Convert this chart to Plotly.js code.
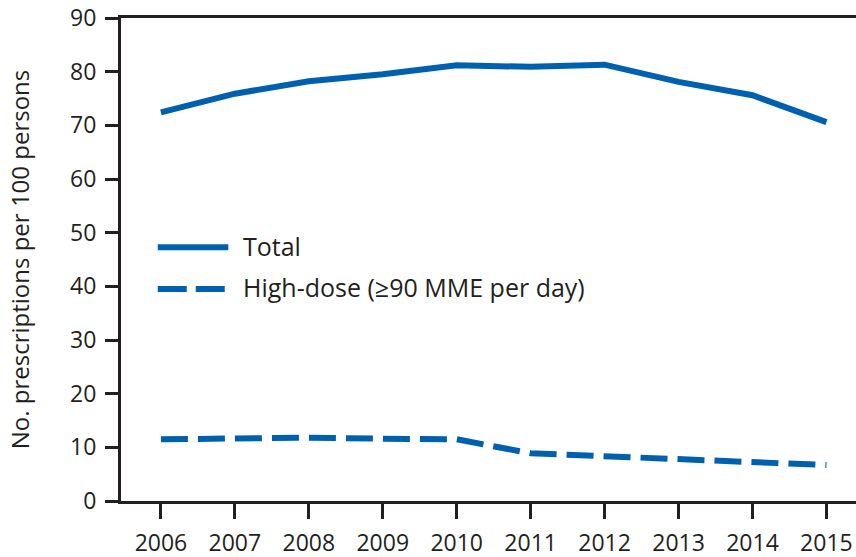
<!DOCTYPE html>
<html>
<head>
<meta charset="utf-8">
<script src="https://cdn.plot.ly/plotly-3.0.1.min.js"></script>
<style>
    html, body { margin: 0; padding: 0; background: #ffffff; }
    #chart { width: 856px; height: 557px; }
</style>
</head>
<body>
<div id="chart"></div>
<script>
// Opioid prescribing rates, per 100 persons
const years = [2006, 2007, 2008, 2009, 2010, 2011, 2012, 2013, 2014, 2015];
const totalRate = [72.4, 75.9, 78.2, 79.5, 81.2, 80.9, 81.3, 78.1, 75.6, 70.6];
const highDoseRate = [11.5, 11.7, 11.8, 11.6, 11.5, 8.9, 8.4, 7.8, 7.3, 6.7];
const yTicks = [0, 10, 20, 30, 40, 50, 60, 70, 80, 90];
const legendLabels = ['Total', 'High-dose (\u226590 MME per day)'];

const blue = '#0060b0';
const ink = '#231f20';
const font = 'Open Sans, Noto Sans, sans-serif';

const traces = [
    {
        x: years, y: totalRate, name: legendLabels[0],
        type: 'scatter', mode: 'lines',
        line: { color: blue, width: 6 }
    },
    {
        x: years, y: highDoseRate, name: legendLabels[1],
        type: 'scatter', mode: 'lines',
        line: { color: blue, width: 6, dash: '27px,10px' }
    }
];

// Hand-made legend: long sample lines like the original figure
const shapes = [
    { type: 'line', xref: 'paper', yref: 'y', x0: 0.05, x1: 0.146, y0: 47.3, y1: 47.3,
      line: { color: blue, width: 6 } },
    { type: 'line', xref: 'paper', yref: 'y', x0: 0.05, x1: 0.146, y0: 39.5, y1: 39.5,
      line: { color: blue, width: 6, dash: '29px,9px' } }
];

const annotations = legendLabels.map((label, i) => ({
    text: label, xref: 'paper', yref: 'y', x: 0.163, y: i === 0 ? 47.6 : 39.8,
    xanchor: 'left', yanchor: 'middle', showarrow: false,
    font: { family: font, size: 25, color: ink }
}));

const layout = {
    width: 856,
    height: 557,
    margin: { l: 121, r: 0, t: 18, b: 56 },
    paper_bgcolor: '#ffffff',
    plot_bgcolor: '#ffffff',
    showlegend: false,
    shapes: shapes,
    annotations: annotations,
    xaxis: {
        range: [2005.46, 2015.4],
        tickvals: years,
        ticktext: years.map(String),
        showgrid: false,
        zeroline: false,
        showline: true,
        mirror: true,
        linecolor: ink,
        linewidth: 3,
        ticks: 'outside',
        ticklen: 15,
        tickwidth: 3,
        tickcolor: ink,
        ticklabelstandoff: 4,
        tickfont: { family: font, size: 23, color: ink }
    },
    yaxis: {
        range: [0, 90],
        tickvals: yTicks,
        showgrid: false,
        zeroline: false,
        showline: true,
        linecolor: ink,
        linewidth: 3,
        ticks: 'outside',
        ticklen: 13,
        tickwidth: 3,
        tickcolor: ink,
        ticklabelstandoff: 4,
        tickfont: { family: font, size: 23, color: ink },
        title: {
            text: 'No. prescriptions per 100 persons',
            standoff: 34,
            font: { family: font, size: 24, color: ink }
        }
    }
};

Plotly.newPlot('chart', traces, layout, { displayModeBar: false, staticPlot: true });
</script>
</body>
</html>
